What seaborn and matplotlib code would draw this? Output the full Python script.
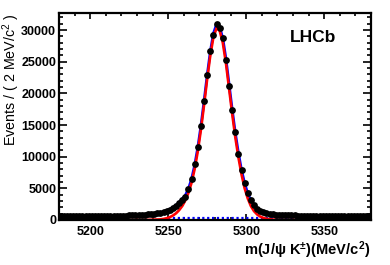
"""B+ -> J/psi K+ invariant mass fit, LHCb style"""

import matplotlib

matplotlib.use("Agg")
import matplotlib.pyplot as plt
import numpy as np
import pandas as pd
import seaborn as sns
from matplotlib.ticker import MultipleLocator

# bin centres, 2 MeV/c^2 bins over 5180-5380
mass = np.arange(5181, 5380, 2)

events = [
    630, 650, 620, 640, 630, 650, 640, 630, 660, 650,
    640, 660, 650, 670, 660, 650, 670, 680, 670, 690,
    700, 710, 720, 740, 750, 770, 800, 830, 870, 920,
    980, 1060, 1170, 1300, 1460, 1650, 1900, 2250, 2650, 3100,
    3700, 4870, 6400, 8810, 11530, 14860, 18760, 22960, 26620, 29250,
    30930, 30390, 28820, 25310, 21150, 17300, 13880, 10380, 7860, 5770,
    4200, 3100, 2350, 1800, 1450, 1220, 1060, 950, 880, 830,
    800, 780, 760, 740, 730, 720, 710, 700, 690, 690,
    680, 680, 670, 670, 660, 660, 650, 650, 650, 640,
    640, 640, 630, 630, 630, 620, 620, 620, 610, 610,
]

total_fit = [
    650, 650, 650, 650, 650, 650, 650, 650, 650, 650,
    650, 650, 655, 655, 660, 660, 665, 670, 675, 680,
    690, 700, 710, 725, 740, 760, 790, 820, 860, 910,
    980, 1060, 1170, 1300, 1470, 1690, 1970, 2320, 2780, 3350,
    3900, 4950, 6500, 8700, 11500, 14900, 18800, 22900, 26600, 29500,
    30900, 30500, 28700, 25500, 21500, 17500, 13800, 10600, 7900, 5800,
    4200, 3050, 2250, 1720, 1380, 1160, 1020, 930, 870, 830,
    800, 780, 760, 745, 730, 720, 710, 700, 695, 690,
    685, 680, 675, 670, 665, 660, 655, 650, 650, 645,
    640, 640, 635, 635, 630, 630, 625, 625, 620, 620,
]

signal_fit = [
    0, 0, 0, 0, 0, 0, 0, 0, 0, 0,
    0, 0, 0, 0, 0, 0, 0, 0, 0, 0,
    0, 0, 0, 0, 0, 5, 10, 15, 25, 40,
    60, 80, 100, 170, 280, 450, 700, 1050, 1550, 2200,
    3100, 4300, 5900, 8100, 10900, 14300, 18200, 22300, 26000, 28900,
    30300, 29900, 28000, 24800, 20800, 16800, 13100, 9900, 7200, 5000,
    3400, 2200, 1400, 880, 540, 330, 200, 120, 70, 40,
    20, 10, 0, 0, 0, 0, 0, 0, 0, 0,
    0, 0, 0, 0, 0, 0, 0, 0, 0, 0,
    0, 0, 0, 0, 0, 0, 0, 0, 0, 0,
]

bkg_mass = [5250, 5380]
bkg_level = [250, 250]

df = pd.DataFrame({"mass": mass, "events": events,
                   "total": total_fit, "signal": signal_fit})

sns.set_style("ticks")
plt.rcParams["font.family"] = ["Liberation Sans", "DejaVu Sans"]
plt.rcParams["mathtext.default"] = "regular"
plt.rcParams["text.color"] = "black"
plt.rcParams["xtick.color"] = "black"
plt.rcParams["ytick.color"] = "black"

fig = plt.figure(figsize=(3.9, 2.65), dpi=100)
ax = fig.add_axes([59 / 390, 45 / 265, 312 / 390, 207 / 265])

sns.lineplot(x=bkg_mass, y=bkg_level, ax=ax, color="blue", lw=1.6,
             linestyle=(0, (1, 1.2)))
sns.lineplot(data=df, x="mass", y="total", ax=ax, color="blue", lw=2.0)
sns.lineplot(data=df, x="mass", y="signal", ax=ax, color="red", lw=1.9)
sns.scatterplot(data=df, x="mass", y="events", ax=ax, color="black",
                s=24, linewidth=0, zorder=5)

ax.set_xlim(5180, 5380)
ax.set_ylim(0, 32700)
ax.xaxis.set_major_locator(MultipleLocator(50))
ax.xaxis.set_minor_locator(MultipleLocator(10))
ax.yaxis.set_major_locator(MultipleLocator(5000))
ax.yaxis.set_minor_locator(MultipleLocator(1000))
ax.tick_params(which="both", direction="in", top=True, right=True,
               width=1.2, labelsize=9, colors="black")
ax.tick_params(axis="x", which="major", length=4.5, pad=4.5)
ax.tick_params(axis="x", which="minor", length=2.3)
ax.tick_params(axis="y", which="major", length=5.5, pad=2)
ax.tick_params(axis="y", which="minor", length=2.8)
for lab in ax.get_xticklabels() + ax.get_yticklabels():
    lab.set_fontweight("bold")
for sp in ax.spines.values():
    sp.set_linewidth(1.6)
    sp.set_color("black")
ax.set_xlabel("")
ax.set_ylabel("")

fig.text(11 / 390, 1 - 14 / 265, "Events / ( 2 MeV/c$^{2}$ )", rotation=90,
         ha="center", va="top", fontsize=10.3, color="black")
fig.text(370 / 390, 1 - 255 / 265, "m(J/ψ K$^{\\pm}$)(MeV/c$^{2}$)",
         ha="right", va="baseline", fontsize=10.5, fontweight="bold",
         color="black")
fig.text(290 / 390, 1 - 38 / 265, "LHCb", ha="left", va="center",
         fontsize=12.5, fontweight="bold", color="black")

fig.savefig("out.png", dpi=100)
